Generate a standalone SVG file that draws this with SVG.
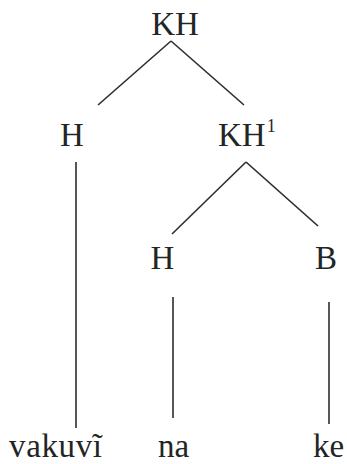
<svg xmlns="http://www.w3.org/2000/svg" width="347" height="464" viewBox="0 0 347 464">
<style>
text{font-family:"Liberation Serif","Times New Roman",serif;font-size:33px;fill:#1f2624}
.sup{font-size:18px}
.c line{stroke:#2a2e2d;stroke-width:1.6;stroke-linecap:butt}
</style>
<rect width="347" height="464" fill="#ffffff"/>
<g class="c" id="connectors">
<line x1="171" y1="41" x2="98" y2="105"/>
<line x1="171" y1="41" x2="244" y2="105"/>
<line x1="76" y1="162" x2="76" y2="428"/>
<line x1="246" y1="162" x2="172" y2="234"/>
<line x1="246" y1="162" x2="318" y2="226"/>
<line x1="173" y1="297" x2="173" y2="418"/>
<line x1="329" y1="302" x2="329" y2="424"/>
</g>
<g id="KH"><text x="175" y="35" text-anchor="middle">KH</text></g>
<g id="H1"><text x="72" y="146" text-anchor="middle">H</text></g>
<g id="KH1"><text x="218" y="146">KH<tspan class="sup" dx="1" dy="-14">1</tspan></text></g>
<g id="H2"><text x="162.5" y="269" text-anchor="middle">H</text></g>
<g id="B"><text x="326" y="269" text-anchor="middle">B</text></g>
<g id="w1"><text x="9" y="457" textLength="93" lengthAdjust="spacing">vakuvĩ</text></g>
<g id="w2"><text x="158" y="457">na</text></g>
<g id="w3"><text x="313" y="457">ke</text></g>
</svg>
